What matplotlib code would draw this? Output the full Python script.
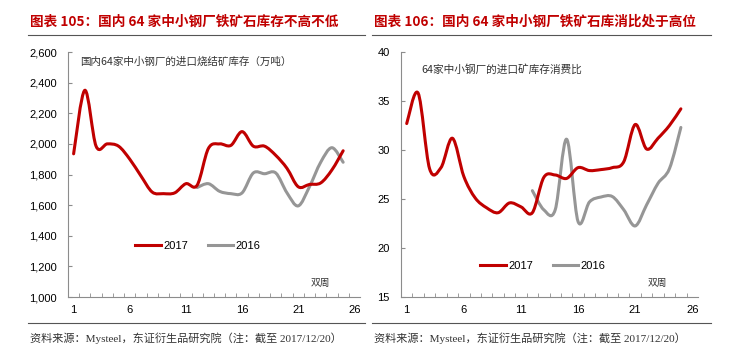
import matplotlib as mpl
import matplotlib.pyplot as plt
import numpy as np
from matplotlib.lines import Line2D
from matplotlib.patches import PathPatch
from matplotlib.path import Path

mpl.rcParams.update(
    {
        "font.family": ["Liberation Sans", "Noto Sans CJK SC", "DejaVu Sans"],
        "font.size": 8,
        "axes.linewidth": 0.8,
    }
)

CJK = ["Noto Sans CJK SC", "DejaVu Sans"]
RED = "#C00000"
GRAY = "#969696"

# ---- data ----
weeks_2017 = list(range(1, 26))
weeks_2016 = list(range(12, 26))

stock_2017 = [1935, 2350, 1985, 2000, 1985, 1900, 1790, 1685, 1675, 1680, 1740, 1730,
              1970, 2000, 1990, 2080, 1985, 1985, 1925, 1840, 1720, 1735, 1745, 1830, 1955]
stock_2016 = [1715, 1740, 1690, 1675, 1680, 1810, 1805, 1810, 1680, 1595, 1720, 1880, 1975, 1880]

ratio_2017 = [32.7, 35.8, 28.1, 28.2, 31.2, 27.3, 25.1, 24.1, 23.6, 24.6, 24.2, 23.6,
              27.2, 27.45, 27.1, 28.2, 27.9, 28.0, 28.2, 28.8, 32.6, 30.1, 31.2, 32.5, 34.2]
ratio_2016 = [25.85, 23.9, 23.9, 31.1, 22.7, 24.7, 25.2, 25.25, 23.9, 22.25, 24.4, 26.6, 28.1, 32.3]

titles = ["图表 105：国内 64 家中小钢厂铁矿石库存不高不低",
          "图表 106：国内 64 家中小钢厂铁矿石库消比处于高位"]
notes = ["国内64家中小钢厂的进口烧结矿库存（万吨）", "64家中小钢厂的进口矿库存消费比"]
source = "资料来源：Mysteel，东证衍生品研究院（注：截至 2017/12/20）"
xticks = [1, 6, 11, 16, 21, 26]


def smooth_line(ax, xs, ys, color, lw=2.2):
    # Excel-style smoothed line: cubic bezier segments through the points
    p = np.column_stack([xs, ys]).astype(float)
    n = len(p)
    verts = [p[0]]
    codes = [Path.MOVETO]
    for i in range(n - 1):
        p0 = p[i - 1] if i > 0 else p[i]
        p3 = p[i + 2] if i + 2 < n else p[i + 1]
        c1 = p[i] + (p[i + 1] - p0) / 6
        c2 = p[i + 1] - (p3 - p[i]) / 6
        verts += [c1, c2, p[i + 1]]
        codes += [Path.CURVE4] * 3
    ax.add_patch(PathPatch(Path(verts, codes), fill=False, edgecolor=color, lw=lw,
                           capstyle="round", joinstyle="round", zorder=3))


def style_axes(ax, ylim, yticks, fmt):
    ax.set_xlim(0.5, 26.5)
    ax.set_ylim(*ylim)
    ax.set_xticks(xticks)
    ax.set_xticks(np.arange(1.5, 26, 1), minor=True)
    ax.set_yticks(yticks)
    ax.set_yticklabels([fmt(v) for v in yticks])
    for side in ("top", "right"):
        ax.spines[side].set_visible(False)
    for side in ("left", "bottom"):
        ax.spines[side].set_color("#8c8c8c")
    ax.tick_params(axis="x", which="major", length=0, pad=6, labelsize=8)
    ax.tick_params(axis="x", which="minor", direction="in", length=3, color="#8c8c8c")
    ax.tick_params(axis="y", direction="in", length=3, color="#8c8c8c", pad=8, labelsize=8)


fig = plt.figure(figsize=(7.29, 3.59), dpi=100)

ax1 = fig.add_axes([68 / 729, 1 - 297 / 359, 292 / 729, 245 / 359])
ax2 = fig.add_axes([401 / 729, 1 - 297 / 359, 297 / 729, 245 / 359])

style_axes(ax1, (1000, 2600), list(range(1000, 2601, 200)), lambda v: f"{v:,}")
style_axes(ax2, (15, 40), list(range(15, 41, 5)), lambda v: f"{v}")

smooth_line(ax1, weeks_2016, stock_2016, GRAY)
smooth_line(ax1, weeks_2017, stock_2017, RED)
smooth_line(ax2, weeks_2016, ratio_2016, GRAY)
smooth_line(ax2, weeks_2017, ratio_2017, RED)

handles = [Line2D([], [], color=RED, lw=2.2), Line2D([], [], color=GRAY, lw=2.2)]
for ax, anchor in ((ax1, (0.445, 0.21)), (ax2, (0.478, 0.128))):
    ax.legend(handles, ["2017", "2016"], loc="center", bbox_to_anchor=anchor, ncol=2,
              frameon=False, fontsize=8, handlelength=2.3, columnspacing=1.8, handletextpad=0.2)

ax1.text(0.04, 0.96, notes[0], transform=ax1.transAxes, family=CJK, fontsize=7.6,
         color="#333333", va="center", ha="left")
ax2.text(0.07, 0.93, notes[1], transform=ax2.transAxes, family=CJK, fontsize=7.7,
         color="#333333", va="center", ha="left")
for ax in (ax1, ax2):
    ax.text(0.83, 0.058, "双周", transform=ax.transAxes, family=CJK, fontsize=7,
            color="#333333", va="center", ha="left")

# titles, rules and source lines
for x0, x1, title in ((28, 365, titles[0]), (372, 711, titles[1])):
    fig.text(x0 / 729 + 0.003, 1 - 22 / 359, title, family=CJK, fontsize=9.8,
             fontweight="bold", color=RED, va="center", ha="left")
    fig.add_artist(Line2D([x0 / 729, x1 / 729], [1 - 35 / 359] * 2, color="#555555", lw=0.8))
    fig.add_artist(Line2D([x0 / 729, x1 / 729], [1 - 323 / 359] * 2, color="#555555", lw=0.8))
    fig.text(x0 / 729 + 0.003, 1 - 338 / 359, source, family=["Liberation Serif", "Noto Sans CJK SC"],
             fontsize=8, color="#333333", va="center", ha="left")

fig.savefig("out.png", dpi=100)
